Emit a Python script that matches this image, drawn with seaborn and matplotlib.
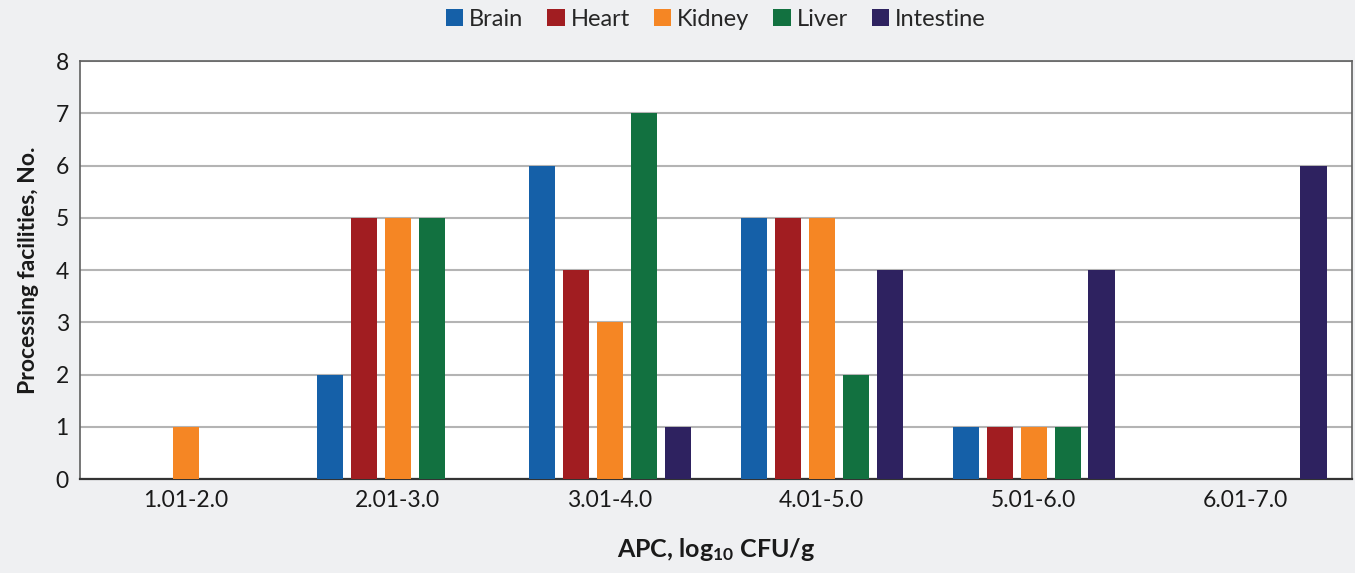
import pandas as pd
import matplotlib.pyplot as plt
import seaborn as sns

plt.switch_backend("Agg")

# data
ranges = ["1.01-2.0", "2.01-3.0", "3.01-4.0", "4.01-5.0", "5.01-6.0", "6.01-7.0"]
brain = [0, 2, 6, 5, 1, 0]
heart = [0, 5, 4, 5, 1, 0]
kidney = [1, 5, 3, 5, 1, 0]
liver = [0, 5, 7, 2, 1, 0]
intestine = [0, 0, 1, 4, 4, 6]

tissues = ["Brain", "Heart", "Kidney", "Liver", "Intestine"]
colors = ["#1560a8", "#a11d21", "#f58624", "#127140", "#2e2260"]

df = pd.DataFrame({"range": ranges, "Brain": brain, "Heart": heart,
                   "Kidney": kidney, "Liver": liver, "Intestine": intestine})
df_long = df.melt(id_vars="range", var_name="tissue", value_name="count")

sns.set_theme(style="white")
plt.rcParams["font.family"] = ["Lato", "DejaVu Sans"]
plt.rcParams["mathtext.fontset"] = "custom"
plt.rcParams["mathtext.rm"] = "Lato:bold"
plt.rcParams["mathtext.default"] = "rm"

bg = "#eff0f2"
fig = plt.figure(figsize=(13.55, 5.73), dpi=100, facecolor=bg)
ax = fig.add_axes([0.059, 0.164, 0.9385, 0.7295])
ax.set_facecolor("white")

sns.barplot(data=df_long, x="range", y="count", hue="tissue", order=ranges,
            hue_order=tissues, palette=colors, width=0.8, gap=0.23,
            linewidth=0, saturation=1, ax=ax, zorder=3)

ax.set_ylim(0, 8)
ax.set_yticks(range(0, 9))
ax.yaxis.grid(True, color="#b4b4b4", linewidth=1.5, zorder=0)
ax.set_axisbelow(True)
for s in ax.spines.values():
    s.set_color("#606060")
    s.set_linewidth(1.2)
ax.spines["bottom"].set_color("#333333")
ax.spines["bottom"].set_linewidth(1.6)
ax.tick_params(axis="both", length=0, labelsize=16.5, colors="#1a1a1a", pad=8)

ax.set_xlabel(r"APC, log$_{10}$ CFU/g", fontsize=18, fontweight="bold",
              color="#1a1a1a", labelpad=18)
ax.set_ylabel("Processing facilities, No.", fontsize=16.5, fontweight="bold",
              color="#1a1a1a", labelpad=12)

ax.legend(loc="center", bbox_to_anchor=(0.5, 1.1), ncol=5, frameon=False,
          fontsize=17, handlelength=0.75, handleheight=0.75,
          handletextpad=0.25, columnspacing=1.0)

plt.savefig("out.png", dpi=100, facecolor=bg)
plt.close()
